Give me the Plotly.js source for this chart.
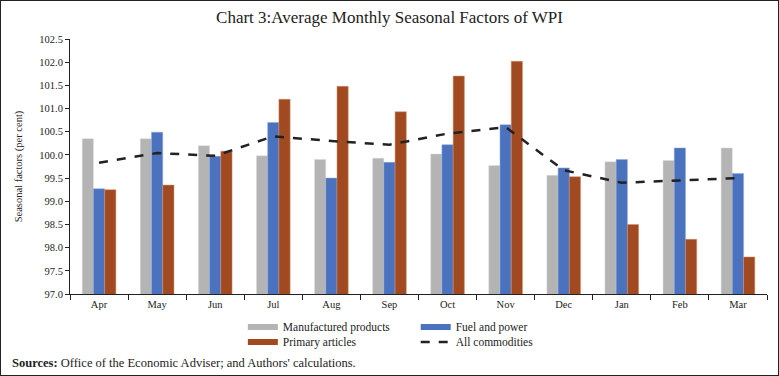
<!DOCTYPE html>
<html><head><meta charset="utf-8">
<script src="https://cdn.plot.ly/plotly-3.0.1.min.js"></script>
<style>html,body{margin:0;padding:0;background:#fff}#c{width:777px;height:374px;border:1px solid #222}</style>
</head><body><div id="c"></div>
<script>
const months = ['Apr','May','Jun','Jul','Aug','Sep','Oct','Nov','Dec','Jan','Feb','Mar'];
const manufactured = [100.35,100.35,100.20,99.98,99.90,99.93,100.02,99.77,99.56,99.85,99.88,100.15];
const fuel = [99.27,100.49,99.97,100.70,99.50,99.84,100.22,100.65,99.72,99.90,100.15,99.60];
const primary = [99.25,99.35,100.08,101.20,101.48,100.93,101.70,102.02,99.53,98.50,98.18,97.80];
const allComm = [99.83,100.04,99.98,100.40,100.30,100.22,100.46,100.60,99.67,99.40,99.45,99.50];
const yTicks = [97.0,97.5,98.0,98.5,99.0,99.5,100.0,100.5,101.0,101.5,102.0,102.5];

const F = 'Liberation Serif, DejaVu Serif, serif';
const cGray = '#B4B4B4', cBlue = '#4A72BF', cBrown = '#A14A22';
const traces = [
  {type:'bar', x:months, y:manufactured, name:'Manufactured products', marker:{color:cGray, line:{color:'#dcdcdc', width:0.5}}, showlegend:false},
  {type:'bar', x:months, y:fuel, name:'Fuel and power', marker:{color:cBlue, line:{color:'#8fa8d8', width:0.5}}, showlegend:false},
  {type:'bar', x:months, y:primary, name:'Primary articles', marker:{color:cBrown, line:{color:'#d09070', width:0.5}}, showlegend:false},
  {type:'scatter', mode:'lines', x:months, y:allComm, name:'All commodities', line:{color:'#222', width:2.5, dash:'dash'}, legend:'legend4'},
  // legend-only entries (wide rectangle swatches like the reference)
  {type:'scatter', mode:'lines', x:[null], y:[null], name:'Manufactured products', line:{color:cGray, width:6}, legend:'legend', hoverinfo:'skip'},
  {type:'scatter', mode:'lines', x:[null], y:[null], name:'Fuel and power', line:{color:cBlue, width:6}, legend:'legend2', hoverinfo:'skip'},
  {type:'scatter', mode:'lines', x:[null], y:[null], name:'Primary articles', line:{color:cBrown, width:6}, legend:'legend3', hoverinfo:'skip'}
];
function leg(x, y){
  return {x:x, y:y, xanchor:'left', yanchor:'middle', orientation:'v', font:{family:F, size:11.5, color:'#222'}, tracegroupgap:0, bgcolor:'rgba(0,0,0,0)'};
}
const layout = {
  width:777, height:374,
  margin:{l:69, r:11, t:38, b:81},
  paper_bgcolor:'#fff', plot_bgcolor:'#fff',
  font:{family:F, size:10.5, color:'#222'},
  title:{text:'Chart 3:Average Monthly Seasonal Factors of WPI', font:{family:F, size:17, color:'#222'}, x:0.5, xanchor:'center', y:0.958, yanchor:'middle'},
  barmode:'group', bargap:0.42, bargroupgap:0,
  xaxis:{type:'category', showline:true, linecolor:'#222', linewidth:1, ticks:'outside', tickson:'boundaries', ticklen:5, tickcolor:'#222', showgrid:false, tickfont:{family:F, size:10.5}},
  yaxis:{range:[97,102.5], tickvals:yTicks, ticktext:yTicks.map(v=>v.toFixed(1)), showline:true, linecolor:'#222', linewidth:1, ticks:'outside', ticklen:4, tickcolor:'#222', showgrid:false, zeroline:false, tickfont:{family:F, size:10.5},
    title:{text:'Seasonal factors (per cent)', font:{family:F, size:10.5}, standoff:14}},
  legend: leg(0.248, -0.129),
  legend2: leg(0.496, -0.129),
  legend3: leg(0.248, -0.188),
  legend4: leg(0.496, -0.188),
  annotations:[{xref:'paper', yref:'paper', x:-0.086, y:-0.27, xanchor:'left', yanchor:'middle', showarrow:false, align:'left',
    text:'<b>Sources:</b> Office of the Economic Adviser; and Authors\' calculations.', font:{family:F, size:12.5, color:'#222'}}]
};
Plotly.newPlot('c', traces, layout, {displayModeBar:false, staticPlot:true});
</script></body></html>
